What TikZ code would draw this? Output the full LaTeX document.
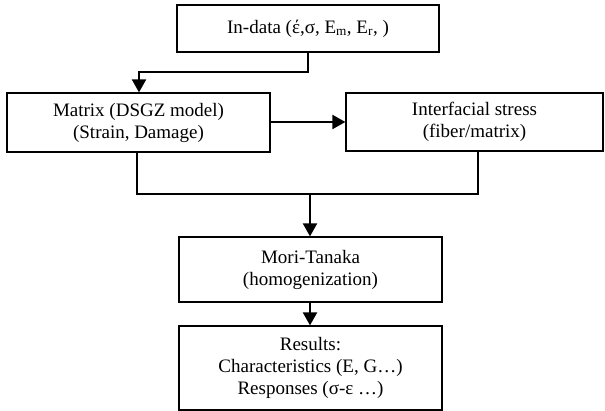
\documentclass[tikz,border=0pt]{standalone}
\usepackage{fontspec}
\setmainfont{Liberation Serif}
\usetikzlibrary{arrows.meta}
\tikzset{
  boxnode/.style={draw=black, line width=1.2pt, inner sep=0pt, align=center,
    font=\fontsize{19}{22}\selectfont},
  conn/.style={line width=2pt, black},
  arr/.style={conn, -{Triangle[length=13pt,width=14pt]}}
}
\begin{document}
\begin{tikzpicture}[x=1pt,y=-1pt]
\useasboundingbox (0,0) rectangle (605,411);
\node[boxnode, minimum width=262pt, minimum height=47pt] (indata) at (308,28.5)
  {In-data (έ,σ, E\textsubscript{m}, E\textsubscript{r}, )};
\node[boxnode, minimum width=263pt, minimum height=59pt] (matrix) at (138.5,122.5)
  {Matrix (DSGZ model)\\(Strain, Damage)};
\node[boxnode, minimum width=257pt, minimum height=58pt] (inter) at (474.5,122)
  {Interfacial stress\\(fiber/matrix)};
\node[boxnode, minimum width=263pt, minimum height=65pt] (mori) at (310.5,269.5)
  {Mori-Tanaka\\(homogenization)};
\node[boxnode, minimum width=263pt, minimum height=84pt] (res) at (310.5,368)
  {Results:\\Characteristics (E, G…)\\Responses (σ-ε …)};
\coordinate (k1) at (308,72);
\coordinate (k2) at (139,72);
\coordinate (j) at (310,194);
\draw[arr] (indata.south -| k1) -- (k1) -- (k2) -- (k2 |- matrix.north);
\draw[arr] (matrix.east |- 0,122) -- (inter.west |- 0,122);
\draw[conn] (137,0 |- matrix.south) -- (137,194) -- (478,194) -- (478,0 |- inter.south);
\draw[arr] (j) -- (j |- mori.north);
\draw[arr] (mori.south -| j) -- (j |- res.north);
\end{tikzpicture}
\end{document}
